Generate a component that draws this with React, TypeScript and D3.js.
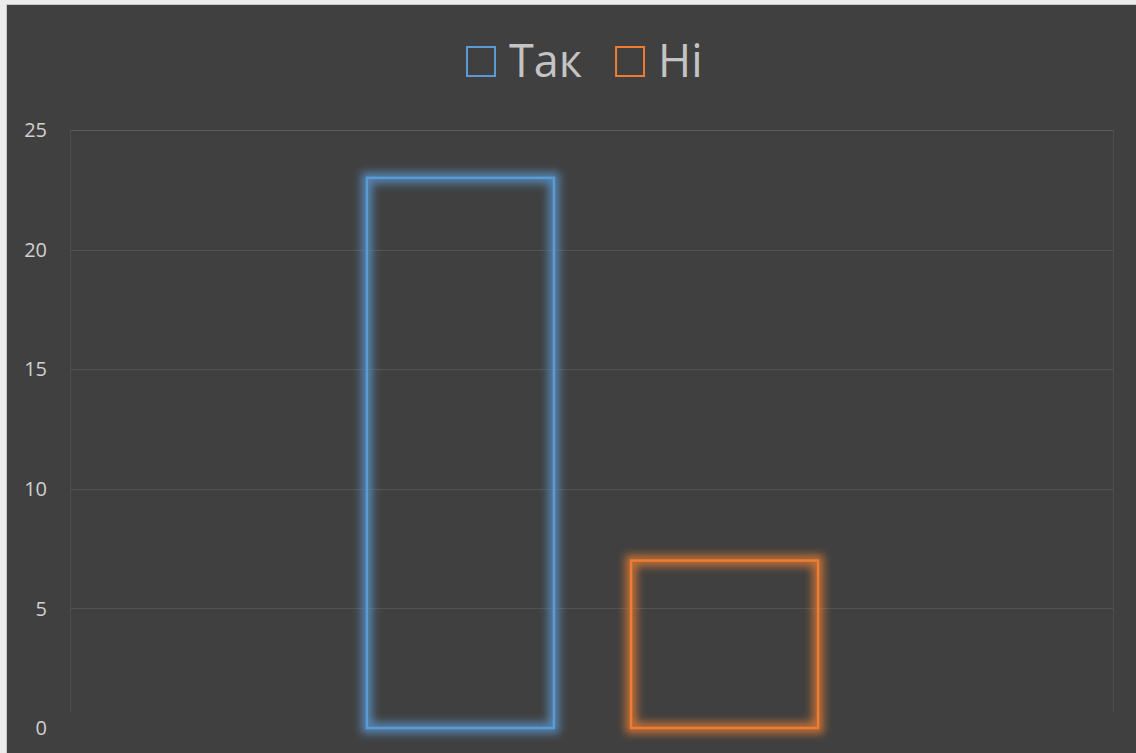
import { useEffect, useRef } from "react";
import * as d3 from "d3";

// chart data
const categories = ["1"];
const seriesNames = ["Так", "Ні"];
const seriesValues = [23, 7];
const seriesColors = ["#5b9bd5", "#ed7d31"];
const yTicks = [0, 5, 10, 15, 20, 25];

const W = 1136;
const H = 753;
const M = { top: 130, right: 23, bottom: 25, left: 70 };
const FONT = "'Open Sans', Calibri, sans-serif";

export default function App() {
  const svgRef = useRef<SVGSVGElement>(null);

  useEffect(() => {
    document.body.style.margin = "0";
    const svg = d3.select(svgRef.current);
    svg.selectAll("*").remove();

    // frame: light edge on top/left, dark chart area
    svg.append("rect").attr("width", W).attr("height", H).attr("fill", "#ececec");
    svg.append("rect").attr("x", 6).attr("y", 4).attr("width", W).attr("height", H).attr("fill", "#c9c9c9");
    svg.append("rect").attr("x", 7).attr("y", 5).attr("width", W).attr("height", H).attr("fill", "#404040");

    const x0 = d3.scaleBand().domain(categories).range([M.left, W - M.right]).paddingInner(0).paddingOuter(0.656);
    const x1 = d3.scaleBand().domain(seriesNames).range([0, x0.bandwidth()]).paddingInner(0.292);
    const y = d3.scaleLinear().domain([0, 25]).range([H - M.bottom, M.top]);

    // glow filters
    const defs = svg.append("defs");
    seriesColors.forEach((c, i) => {
      const f = defs.append("filter").attr("id", `glow${i}`)
        .attr("x", "-20%").attr("y", "-20%").attr("width", "140%").attr("height", "140%");
      f.append("feGaussianBlur").attr("in", "SourceGraphic").attr("stdDeviation", 4.5).attr("result", "b");
      f.append("feMerge").call(m => m.append("feMergeNode").attr("in", "b"));
    });

    // gridlines
    svg.append("g").selectAll("line")
      .data(yTicks.filter(t => t > 0))
      .join("line")
      .attr("x1", M.left).attr("x2", W - M.right)
      .attr("y1", d => Math.round(y(d)) + 0.5).attr("y2", d => Math.round(y(d)) + 0.5)
      .attr("stroke", d => d === 25 ? "#5c5c5c" : "#535353")
      .attr("stroke-width", 1);

    // plot area sides
    for (const xe of [M.left, W - M.right]) {
      svg.append("line")
        .attr("x1", xe + 0.5).attr("x2", xe + 0.5)
        .attr("y1", y(25)).attr("y2", y(0) - 15)
        .attr("stroke", "#4e4e4e").attr("stroke-width", 1);
    }

    // tick labels
    svg.append("g").selectAll("text")
      .data(yTicks)
      .join("text")
      .attr("x", 47)
      .attr("y", d => y(d))
      .attr("dy", "0.36em")
      .attr("text-anchor", "end")
      .attr("fill", "#d0d0d0")
      .attr("font-size", 20)
      .attr("font-family", FONT)
      .text(d => d);

    // bars
    const g = svg.append("g").attr("transform", `translate(${x0("1")! + 1},0)`);
    seriesNames.forEach((s, i) => {
      const bx = x1(s)!;
      const by = y(seriesValues[i]);
      const bw = x1.bandwidth();
      const bh = y(0) - by;
      g.append("rect")
        .attr("x", bx).attr("y", by).attr("width", bw).attr("height", bh)
        .attr("fill", "none").attr("stroke", seriesColors[i])
        .attr("stroke-opacity", 0.75).attr("stroke-width", 11)
        .attr("filter", `url(#glow${i})`);
      g.append("rect")
        .attr("x", bx).attr("y", by).attr("width", bw).attr("height", bh)
        .attr("fill", "none").attr("stroke", seriesColors[i])
        .attr("stroke-width", 2.5);
    });

    // legend
    const lg = svg.append("g").attr("transform", "translate(466,46)");
    let lx = 0;
    seriesNames.forEach((s, i) => {
      lg.append("rect")
        .attr("x", lx + 1).attr("y", 1).attr("width", 28).attr("height", 29)
        .attr("fill", "none").attr("stroke", seriesColors[i]).attr("stroke-width", 2);
      const t = lg.append("text")
        .attr("x", lx + 43).attr("y", 31)
        .attr("fill", "#c4c4c4")
        .attr("font-size", 45)
        .attr("font-family", FONT)
        .text(s);
      const tw = (t.node() as SVGTextElement).getComputedTextLength();
      lx += 43 + tw + 33;
    });
  }, []);

  return <svg ref={svgRef} width={W} height={H} style={{ display: "block" }} />;
}
